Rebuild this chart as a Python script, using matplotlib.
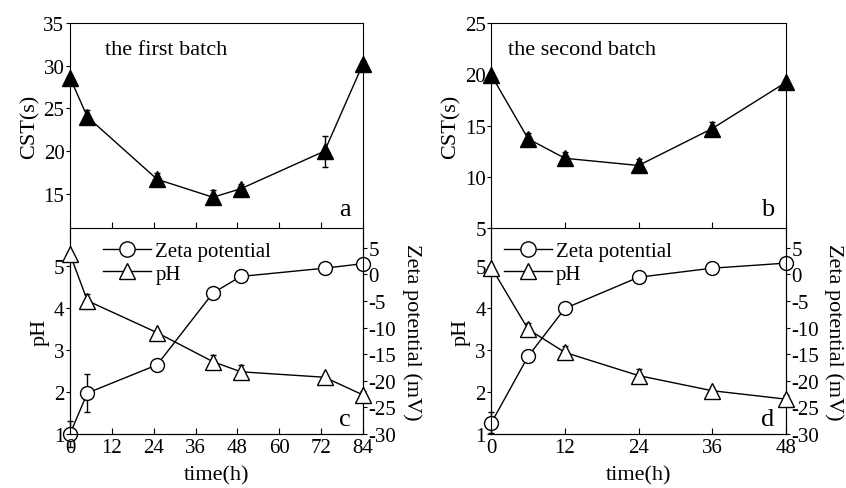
import numpy as np
import matplotlib
matplotlib.use("Agg")
import matplotlib.pyplot as plt
from matplotlib.lines import Line2D

plt.rcParams['font.family'] = ['Liberation Serif', 'DejaVu Serif']
plt.rcParams['font.size'] = 15
plt.rcParams['axes.unicode_minus'] = False

# first batch
t1 = [0, 5, 25, 41, 49, 73, 84]
cst1 = [28.6, 24.0, 16.7, 14.6, 15.6, 20.0, 30.2]
cst1_err = [0.3, 0.8, 0.7, 0.8, 0.6, 1.8, 0.3]
ph1 = [5.28, 4.17, 3.41, 2.72, 2.48, 2.35, 1.93]
ph1_err = [0.05, 0.15, 0.05, 0.15, 0.15, 0.05, 0.1]
zeta1 = [-30.0, -22.3, -17.0, -3.5, -0.4, 1.15, 2.0]
zeta1_err = [2.5, 3.6, 0.8, 0.8, 0.8, 0.8, 0.5]

# second batch
t2 = [0, 6, 12, 24, 36, 48]
cst2 = [19.9, 13.7, 11.8, 11.1, 14.7, 19.2]
cst2_err = [0.2, 0.6, 0.6, 0.6, 0.6, 0.2]
ph2 = [4.96, 3.49, 2.94, 2.39, 2.03, 1.83]
ph2_err = [0.05, 0.15, 0.15, 0.15, 0.05, 0.1]
zeta2 = [-27.9, -15.4, -6.4, -0.55, 1.15, 2.1]
zeta2_err = [2.0, 0.8, 0.8, 0.8, 0.8, 0.8]

fig = plt.figure(figsize=(8.46, 4.89), dpi=100)

panels = [
    (0.0827, 0.3463, t1, cst1, cst1_err, ph1, ph1_err, zeta1, zeta1_err,
     84, (11, 35), [15, 20, 25, 30, 35], 'the first batch', 'a', 'c', 0.12, 0.085),
    (0.5808, 0.3480, t2, cst2, cst2_err, ph2, ph2_err, zeta2, zeta2_err,
     48, (5, 25), [5, 10, 15, 20, 25], 'the second batch', 'b', 'd', 0.058, 0.014),
]

for (x0, w, t, cst, cst_err, ph, ph_err, zeta, zeta_err,
     tmax, cst_lim, cst_ticks, title, lab_top, lab_bot, title_x, leg_x) in panels:
    ax_top = fig.add_axes([x0, 0.5317, w, 0.4192])
    ax_bot = fig.add_axes([x0, 0.1104, w, 0.4213])
    ax_z = ax_bot.twinx()

    ax_top.errorbar(t, cst, yerr=cst_err, color='black', marker='^', ms=11,
                    lw=1, capsize=2.5, elinewidth=1, clip_on=False, zorder=3)
    ax_top.set_xlim(0, tmax)
    ax_top.set_ylim(*cst_lim)
    ax_top.set_yticks(cst_ticks)
    ax_top.set_xticks(np.arange(0, tmax + 1, 12))
    ax_top.tick_params(axis='x', direction='in', labelbottom=False, length=4)
    ax_top.tick_params(axis='y', direction='out', length=3, pad=1)
    ax_top.set_ylabel('CST(s)', fontsize=16, labelpad=3)
    ax_top.text(title_x, 0.85, title, transform=ax_top.transAxes, fontsize=16)
    ax_top.text(0.96, 0.04, lab_top, transform=ax_top.transAxes, fontsize=19,
                ha='right', va='bottom')

    ax_z.errorbar(t, zeta, yerr=zeta_err, color='black', marker='o', ms=10,
                  mfc='white', lw=1, capsize=2.5, elinewidth=1, clip_on=False,
                  zorder=3)
    ax_bot.errorbar(t, ph, yerr=ph_err, color='black', marker='^', ms=12,
                    mfc='white', lw=1, capsize=2.5, elinewidth=1, clip_on=False,
                    zorder=3)
    ax_bot.set_xlim(0, tmax)
    ax_bot.set_ylim(1, 5.9)
    ax_bot.set_yticks([1, 2, 3, 4, 5])
    ax_z.set_ylim(-30, 8.7)
    ax_z.set_yticks([-30, -25, -20, -15, -10, -5, 0, 5])
    ax_bot.set_xticks(np.arange(0, tmax + 1, 12))
    ax_bot.tick_params(axis='x', direction='in', length=4, pad=3)
    ax_bot.tick_params(axis='y', direction='out', length=3, pad=1)
    ax_z.tick_params(axis='y', direction='out', length=3, pad=1)
    ax_bot.spines['top'].set_visible(False)
    ax_z.spines['top'].set_visible(False)
    ax_bot.set_xlabel('time(h)', fontsize=16, labelpad=6)
    ax_bot.set_ylabel('pH', fontsize=16, labelpad=3)
    ax_z.set_ylabel('Zeta potential (mV)', fontsize=16, rotation=270, labelpad=18)
    ax_bot.set_zorder(ax_z.get_zorder() + 1)
    ax_bot.patch.set_visible(False)
    ax_bot.text(0.96, 0.02, lab_bot, transform=ax_bot.transAxes, fontsize=19,
                ha='right', va='bottom')

    handles = [
        Line2D([], [], color='black', lw=1, marker='o', ms=11, mfc='white'),
        Line2D([], [], color='black', lw=1, marker='^', ms=12, mfc='white'),
    ]
    ax_bot.legend(handles, ['Zeta potential', 'pH'], loc='upper left',
                  bbox_to_anchor=(leg_x, 0.975), frameon=False,
                  fontsize=15, handlelength=2.3, handletextpad=0.2,
                  labelspacing=0.15, borderaxespad=0)

fig.savefig('out.png', dpi=100)
